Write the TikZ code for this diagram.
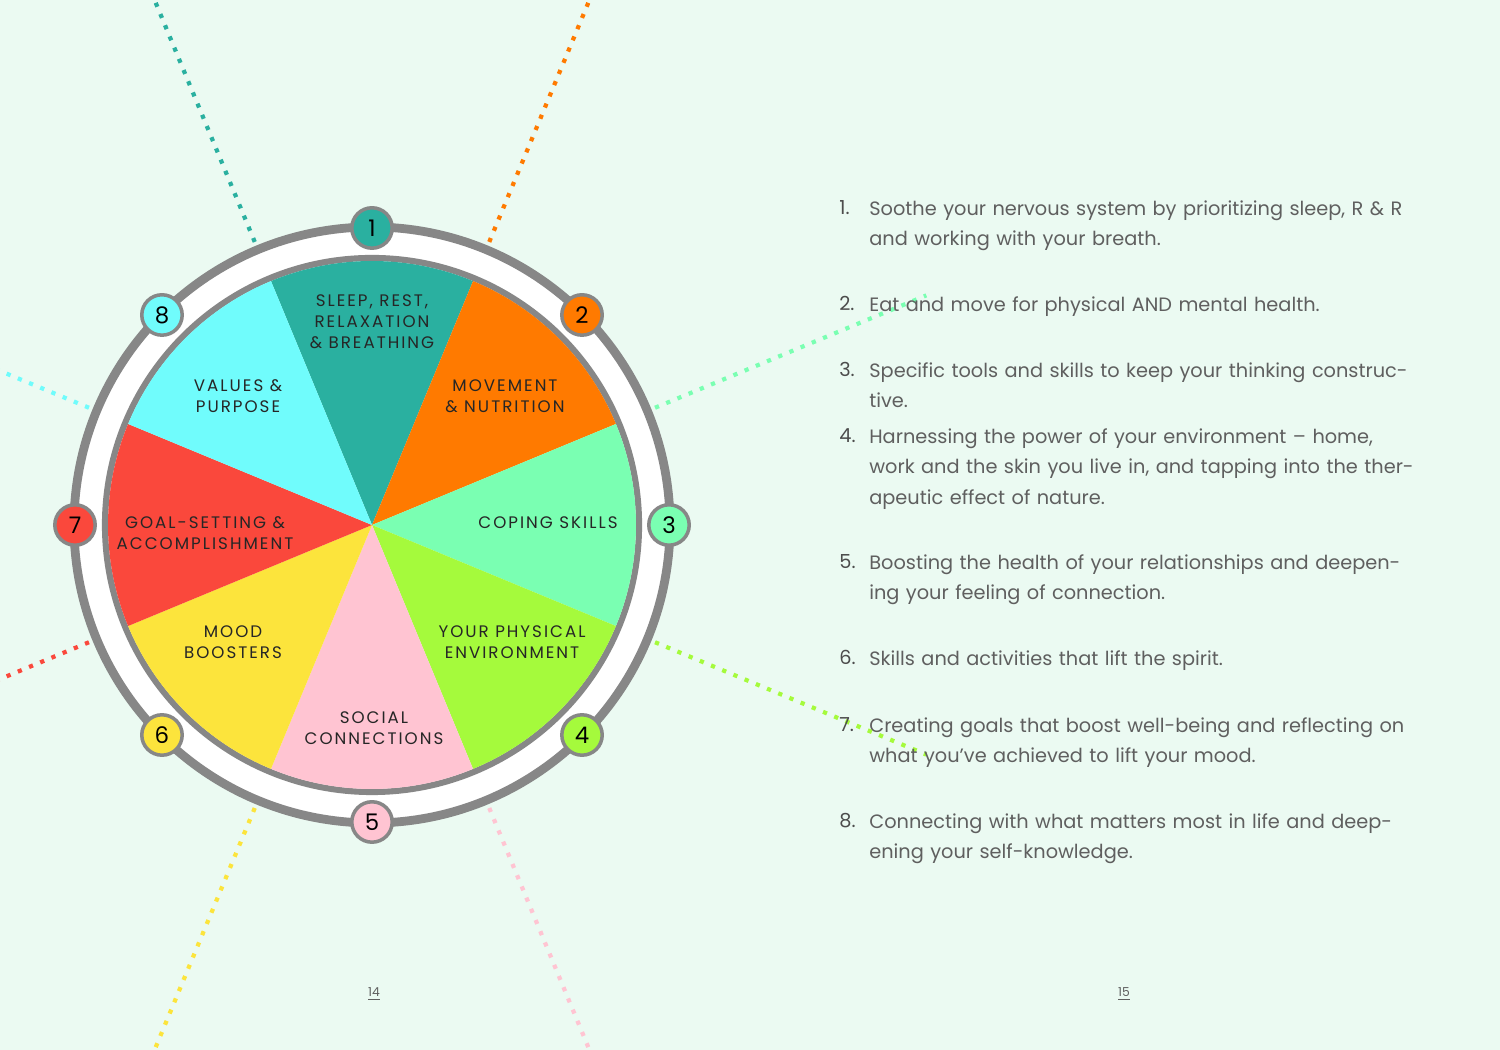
\documentclass[tikz,border=0pt]{standalone}
\usepackage{fontspec}
\setmainfont{Poppins}
\usetikzlibrary{positioning,calc}
\definecolor{bgmint}{RGB}{235,250,242}
\definecolor{ringgray}{RGB}{135,135,135}
\definecolor{txtgray}{RGB}{95,95,95}
\definecolor{cTeal}{RGB}{42,176,160}
\definecolor{cOrange}{RGB}{255,122,0}
\definecolor{cMint}{RGB}{122,255,178}
\definecolor{cLime}{RGB}{165,250,60}
\definecolor{cPink}{RGB}{255,196,210}
\definecolor{cYellow}{RGB}{252,228,60}
\definecolor{cRed}{RGB}{250,72,60}
\definecolor{cCyan}{RGB}{112,252,252}
\tikzset{
  seclabel/.style={align=center, font=\fontsize{9.5}{12}\selectfont\addfontfeature{LetterSpace=12}, text=black!85},
  numdot/.style={circle, draw=ringgray, line width=2pt, minimum size=23pt, inner sep=0pt, font=\fontsize{13}{13}\selectfont},
  item/.style={anchor=north west, align=left, text width=310pt, font=\fontsize{11}{17.5}\selectfont, text=txtgray, inner sep=0pt},
  itemnum/.style={anchor=north west, font=\fontsize{11}{17.5}\selectfont, text=txtgray!80!black, inner sep=0pt},
  rayline/.style={line width=2.4pt, dash pattern=on 2.4pt off 4.5pt, line cap=butt},
}
\begin{document}
\begin{tikzpicture}[x=0.02cm,y=0.02cm]
\useasboundingbox (0,0) rectangle (1500,1050);
\fill[bgmint] (0,0) rectangle (1500,1050);
\clip (0,0) rectangle (1500,1050);
\coordinate (c) at (372,525);
% dotted rays
\foreach \ang/\col in {112.5/cTeal, 67.5/cOrange, 22.5/cMint, -22.5/cLime, -67.5/cPink, -112.5/cYellow, -157.5/cRed, 157.5/cCyan}
  \draw[rayline, \col] ($(c)+(\ang:270)$) -- ($(c)+(\ang:600)$);
% outer ring
\draw[ringgray, line width=5pt, fill=white] (c) circle (298);
\draw[ringgray, line width=3.5pt] (c) circle (267);
% pie sectors
\foreach \mid/\col [count=\i] in {90/cTeal, 45/cOrange, 0/cMint, -45/cLime, -90/cPink, -135/cYellow, 180/cRed, 135/cCyan}
  \fill[\col] (c) -- ($(c)+(\mid-22.5:264)$) arc[start angle=\mid-22.5, end angle=\mid+22.5, radius=264] -- cycle;
% number badges
\foreach \mid/\col [count=\i] in {90/cTeal, 45/cOrange, 0/cMint, -45/cLime, -90/cPink, -135/cYellow, 180/cRed, 135/cCyan}
  \node[numdot, fill=\col] (n\i) at ($(c)+(\mid:297)$) {\i};
% sector labels
\node[seclabel] (s1) at (372,728) {SLEEP, REST,\\RELAXATION\\\&~BREATHING};
\node[seclabel] (s2) at (505,654) {MOVEMENT\\\&~NUTRITION};
\node[seclabel] (s3) at (548,527) {COPING SKILLS};
\node[seclabel] (s4) at (512,408) {YOUR PHYSICAL\\ENVIRONMENT};
\node[seclabel] (s5) at (374,322) {SOCIAL\\CONNECTIONS};
\node[seclabel] (s6) at (233,408) {MOOD\\BOOSTERS};
\node[seclabel] (s7) at (205,517) {GOAL-SETTING \&\\ACCOMPLISHMENT};
\node[seclabel] (s8) at (238,654) {VALUES \&\\PURPOSE};
% list
\foreach \y/\n/\t in {
  850/1/{Soothe your nervous system by prioritizing sleep, R \& R and working with your breath.},
  754/2/{Eat and move for physical AND mental health.},
  688/3/{Specific tools and skills to keep your thinking constructive.},
  622/4/{Harnessing the power of your environment -- home, work and the skin you live in, and tapping into the therapeutic effect of nature.},
  496/5/{Boosting the health of your relationships and deepening your feeling of connection.},
  400/6/{Skills and activities that lift the spirit.},
  333/7/{Creating goals that boost well-being and reflecting on what you've achieved to lift your mood.},
  237/8/{Connecting with what matters most in life and deepening your self-knowledge.}}
{
  \node[itemnum] (k\n) at (839,\y) {\n.};
  \node[item] (t\n) at (869,\y) {\t};
}
% page numbers
\node[font=\fontsize{7}{7}\selectfont, text=txtgray] (p14) at (374,56) {\underline{14}};
\node[font=\fontsize{7}{7}\selectfont, text=txtgray] (p15) at (1124,56) {\underline{15}};
\end{tikzpicture}
\end{document}
